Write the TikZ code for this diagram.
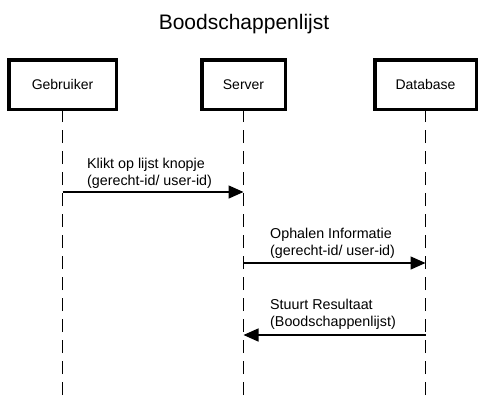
\documentclass[tikz,border=0pt]{standalone}
\usepackage{fontspec}
\setmainfont{Liberation Sans}
\usetikzlibrary{arrows.meta}
\begin{document}
\begin{tikzpicture}[x=1pt,y=-1pt,
  actor/.style={draw,line width=3.5pt,minimum width=#1,minimum height=49.5pt,inner sep=0pt,font=\fontsize{14}{17}\selectfont},
  lifeline/.style={line width=1.5pt,dash pattern=on 13pt off 8pt},
  msg/.style={line width=1.5pt,-{Triangle[length=15pt,width=13pt]}},
  msglabel/.style={anchor=north west,inner sep=0pt,align=left,font=\fontsize{14.3}{17}\selectfont}]
\useasboundingbox (0,0) rectangle (487,400);
\node[anchor=base,inner sep=0pt,font=\fontsize{21}{25}\selectfont] (title) at (244,29) {Boodschappenlijst};
\node[actor=107.5pt] (geb) at (62.5,84.5) {Gebruiker};
\node[actor=83.5pt] (srv) at (243.5,84.5) {Server};
\node[actor=101.5pt] (db) at (425.5,84.5) {Database};
\coordinate (gebend) at (62.5,395);
\coordinate (srvend) at (243.5,395);
\coordinate (dbend) at (425.5,395);
\draw[lifeline] (gebend) -- (geb.south);
\draw[lifeline] (srvend) -- (srv.south);
\draw[lifeline] (dbend) -- (db.south);
\draw[msg] (geb.south |- 0,192) -- (srv.south |- 0,192);
\node[msglabel] (l1) at (87,157.5) {Klikt op lijst knopje\\(gerecht-id/ user-id)};
\draw[msg] (srv.south |- 0,263) -- (db.south |- 0,263);
\node[msglabel] (l2) at (270,228) {Ophalen Informatie\\(gerecht-id/ user-id)};
\draw[msg] (db.south |- 0,335) -- (srv.south |- 0,335);
\node[msglabel] (l3) at (270,299) {Stuurt Resultaat\\(Boodschappenlijst)};
\end{tikzpicture}
\end{document}
